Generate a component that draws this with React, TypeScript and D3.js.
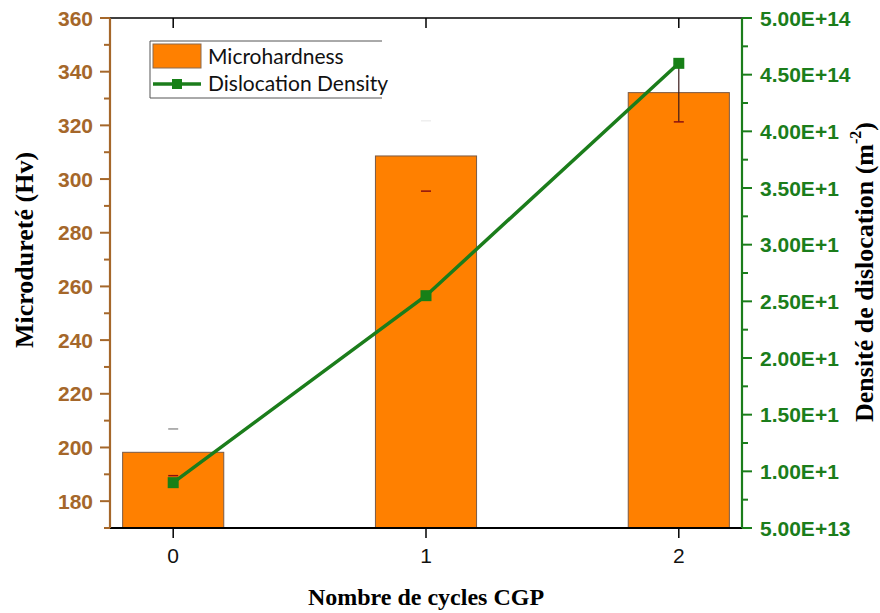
import React from "react";
import * as d3 from "d3";

const cycles = [0, 1, 2];
const microhardness = [198.2, 308.6, 332.2];
const hardnessErr = [8.7, 13.1, 10.9];
const dislocation = [0.9e14, 2.55e14, 4.6e14];
const leftTicks = [180, 200, 220, 240, 260, 280, 300, 320, 340, 360];
const leftMinor = [170, 190, 210, 230, 250, 270, 290, 310, 330, 350];
const rightTicks = [0.5e14, 1e14, 1.5e14, 2e14, 2.5e14, 3e14, 3.5e14, 4e14, 4.5e14, 5e14];
const rightTickLabels = ["5.00E+13", "1.00E+1", "1.50E+1", "2.00E+1", "2.50E+1", "3.00E+1", "3.50E+1", "4.00E+1", "4.50E+14", "5.00E+14"];
const rightMinor = [0.75e14, 1.25e14, 1.75e14, 2.25e14, 2.75e14, 3.25e14, 3.75e14, 4.25e14, 4.75e14];

const L = 110, R = 742, T = 18, B = 528;
const BROWN = "#a5672a";
const GREEN = "#1b7d1b";
const ORANGE = "#ff8000";

export default function App() {
  const x = d3.scaleLinear().domain([-0.25, 2.25]).range([L, R]);
  const yL = d3.scaleLinear().domain([170, 360]).range([B, T]);
  const yR = d3.scaleLinear().domain([5e13, 5e14]).range([B, T]);
  const bw = x(0.2) - x(-0.2);
  const line = d3.line<number>().x((_, i) => x(cycles[i])).y((d) => yR(d));

  return (
    <svg width={880} height={613} style={{ position: "absolute", left: 0, top: 0, background: "#fff" }}>
      {/* bars */}
      {microhardness.map((v, i) => (
        <rect key={"b" + i} x={x(cycles[i]) - bw / 2} y={yL(v)} width={bw} height={B - yL(v)}
          fill={ORANGE} stroke="#7a5a45" strokeWidth={1} />
      ))}
      {/* error bars */}
      {microhardness.map((v, i) => {
        const cx = x(cycles[i]);
        return (
          <g key={"e" + i}>
            {i === 2 && <line x1={cx} x2={cx} y1={yL(v - hardnessErr[i])} y2={yL(v + hardnessErr[i])} stroke="#3a1a1a" strokeWidth={1.2} />}
            <line x1={cx - 5} x2={cx + 5} y1={yL(v - hardnessErr[i])} y2={yL(v - hardnessErr[i])} stroke="#8b1010" strokeWidth={1.5} />
            <line x1={cx - 5} x2={cx + 5} y1={yL(v + hardnessErr[i])} y2={yL(v + hardnessErr[i])} stroke={i === 1 ? "#eeeeee" : "#999"} strokeWidth={1.5} />
          </g>
        );
      })}
      {/* frame */}
      <line x1={L} x2={R} y1={T} y2={T} stroke="#000" strokeWidth={1.5} />
      <line x1={L} x2={R} y1={B} y2={B} stroke="#000" strokeWidth={2} />
      {cycles.map((c) => (
        <g key={"xt" + c}>
          <line x1={x(c)} x2={x(c)} y1={B} y2={B + 10} stroke="#000" strokeWidth={1.5} />
          <line x1={x(c)} x2={x(c)} y1={T} y2={T + 10} stroke="#000" strokeWidth={1.5} />
          <text x={x(c)} y={563} textAnchor="middle" fontFamily="Liberation Sans, Arial, sans-serif" fontSize={21} fill="#111">{c}</text>
        </g>
      ))}
      {/* left axis */}
      <line x1={L} x2={L} y1={T} y2={B} stroke={BROWN} strokeWidth={2.2} />
      {leftTicks.map((t) => (
        <g key={"lt" + t}>
          <line x1={L - 10} x2={L} y1={yL(t)} y2={yL(t)} stroke={BROWN} strokeWidth={2} />
          <text x={93} y={yL(t)} dy="0.36em" textAnchor="end" fontFamily="Liberation Sans, Arial, sans-serif" fontWeight="bold" fontSize={21} fill={BROWN}>{t}</text>
        </g>
      ))}
      {leftMinor.map((t) => (
        <line key={"lm" + t} x1={L - 6} x2={L} y1={yL(t)} y2={yL(t)} stroke={BROWN} strokeWidth={2} />
      ))}
      {/* right axis */}
      <line x1={R} x2={R} y1={T} y2={B} stroke={GREEN} strokeWidth={2.2} />
      {rightTicks.map((t, i) => (
        <g key={"rt" + i}>
          <line x1={R} x2={R + 10} y1={yR(t)} y2={yR(t)} stroke={GREEN} strokeWidth={2} />
          <text x={760} y={yR(t)} dy="0.36em" fontFamily="Liberation Sans, Arial, sans-serif" fontWeight="bold" fontSize={21} fill={GREEN}>{rightTickLabels[i]}</text>
        </g>
      ))}
      {rightMinor.map((t, i) => (
        <line key={"rm" + i} x1={R} x2={R + 6} y1={yR(t)} y2={yR(t)} stroke={GREEN} strokeWidth={2} />
      ))}
      {/* dislocation line */}
      <path d={line(dislocation) || ""} fill="none" stroke={GREEN} strokeWidth={3.5} />
      {dislocation.map((d, i) => (
        <rect key={"m" + i} x={x(cycles[i]) - 5.5} y={yR(d) - 5.5} width={11} height={11} fill="#178017" />
      ))}
      {/* legend */}
      <g>
        <polyline points="382,41 150,41 150,98 382,98" fill="none" stroke="#555" strokeWidth={1} />
        <rect x={153} y={44} width={48} height={24} fill={ORANGE} stroke="#8a6a50" strokeWidth={1} />
        <text x={208} y={64} fontFamily="Lato, 'Open Sans', sans-serif" fontSize={21} fill="#111">Microhardness</text>
        <line x1={153} x2={201} y1={84} y2={84} stroke={GREEN} strokeWidth={3.5} />
        <rect x={172} y={79} width={10} height={10} fill="#178017" />
        <text x={208} y={91} fontFamily="Lato, 'Open Sans', sans-serif" fontSize={21} fill="#111">Dislocation Density</text>
      </g>
      {/* titles */}
      <text transform="translate(24,250) rotate(-90)" textAnchor="middle" dominantBaseline="central"
        fontFamily="Liberation Serif, 'Times New Roman', serif" fontWeight="bold" fontSize={26} fill="#000">Microdureté (Hv)</text>
      <text transform="translate(864,272) rotate(-90)" textAnchor="middle" dominantBaseline="central"
        fontFamily="Liberation Serif, 'Times New Roman', serif" fontWeight="bold" fontSize={26} fill="#000">
        Densité de dislocation (m<tspan baselineShift="super" fontSize={16}>-2</tspan>)
      </text>
      <text x={426} y={605} textAnchor="middle" fontFamily="Liberation Serif, 'Times New Roman', serif" fontWeight="bold" fontSize={24} fill="#000">Nombre de cycles CGP</text>
    </svg>
  );
}
